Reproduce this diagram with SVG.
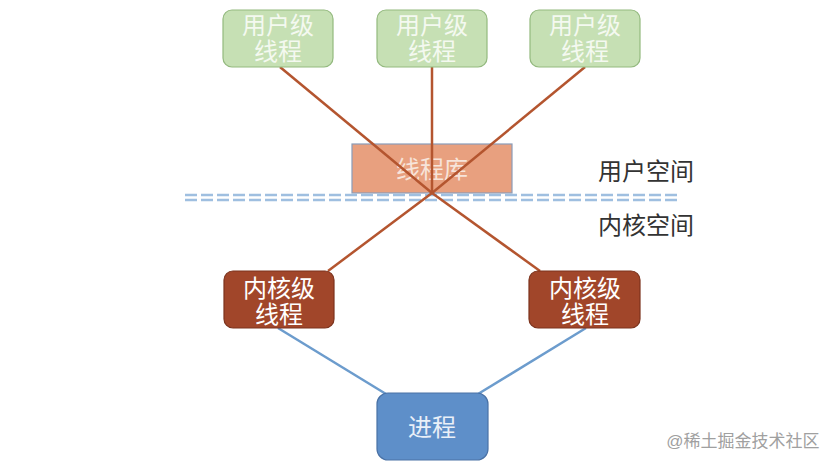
<svg xmlns="http://www.w3.org/2000/svg" width="838" height="468" viewBox="0 0 838 468">
<style>
.t{font-family:"Liberation Sans","Noto Sans CJK SC",sans-serif;font-size:24px;text-anchor:middle;dominant-baseline:central}
.u rect{fill:#c6e0b4;stroke:#93b97e;stroke-width:1.2}
.u text{fill:#f4f9f0}
.k rect{fill:#a1462a;stroke:#7c331d;stroke-width:1.2}
.k text{fill:#ffffff}
.br{stroke:#b4552f;stroke-width:2.5;fill:none}
.bl{stroke:#6c9ccd;stroke-width:2.5;fill:none}
</style>
<rect width="838" height="468" fill="#ffffff"/>
<g id="lib">
<rect x="352" y="144" width="160" height="49" fill="#e8a07f" stroke="#8a9cb8" stroke-width="1.2"/>
<text class="t" x="432" y="169" fill="#f7e4da">线程库</text>
</g>
<g id="divider">
<line x1="185" y1="195" x2="680" y2="195" stroke="#9fbfe0" stroke-width="2.4" stroke-dasharray="12,4"/>
<line x1="185" y1="200" x2="680" y2="200" stroke="#9fbfe0" stroke-width="2.4" stroke-dasharray="12,4"/>
</g>
<g id="connectors">
<line class="br" x1="280" y1="67" x2="432" y2="193"/>
<line class="br" x1="432" y1="67" x2="432" y2="193"/>
<line class="br" x1="585" y1="67" x2="432" y2="193"/>
<line class="br" x1="432" y1="193" x2="328" y2="271"/>
<line class="br" x1="432" y1="193" x2="540" y2="271"/>
<line class="bl" x1="278" y1="328" x2="386" y2="394"/>
<line class="bl" x1="586" y1="328" x2="478" y2="394"/>
</g>
<g id="user1" class="u">
<rect x="223" y="10" width="110" height="57" rx="9"/>
<text class="t" x="278" y="25">用户级</text>
<text class="t" x="278" y="51">线程</text>
</g>
<g id="user2" class="u">
<rect x="377" y="10" width="110" height="57" rx="9"/>
<text class="t" x="432" y="25">用户级</text>
<text class="t" x="432" y="51">线程</text>
</g>
<g id="user3" class="u">
<rect x="530" y="10" width="110" height="57" rx="9"/>
<text class="t" x="585" y="25">用户级</text>
<text class="t" x="585" y="51">线程</text>
</g>
<g id="labels">
<text class="t" x="646" y="171" fill="#333333">用户空间</text>
<text class="t" x="646" y="225" fill="#333333">内核空间</text>
</g>
<g id="kernel1" class="k">
<rect x="224" y="271" width="110" height="57" rx="9"/>
<text class="t" x="279" y="288">内核级</text>
<text class="t" x="279" y="314">线程</text>
</g>
<g id="kernel2" class="k">
<rect x="529" y="271" width="111" height="57" rx="9"/>
<text class="t" x="585" y="288">内核级</text>
<text class="t" x="585" y="314">线程</text>
</g>
<g id="process">
<rect x="377" y="393" width="111" height="67" rx="11" fill="#5e8fc9" stroke="#4a72a6" stroke-width="1.2"/>
<text class="t" x="432" y="427" fill="#e9f0f8">进程</text>
</g>
<text x="743" y="441" font-family="Liberation Sans,'Noto Sans CJK SC',sans-serif" font-size="17" fill="#a0a0a0" text-anchor="middle" dominant-baseline="central">@稀土掘金技术社区</text>
</svg>
